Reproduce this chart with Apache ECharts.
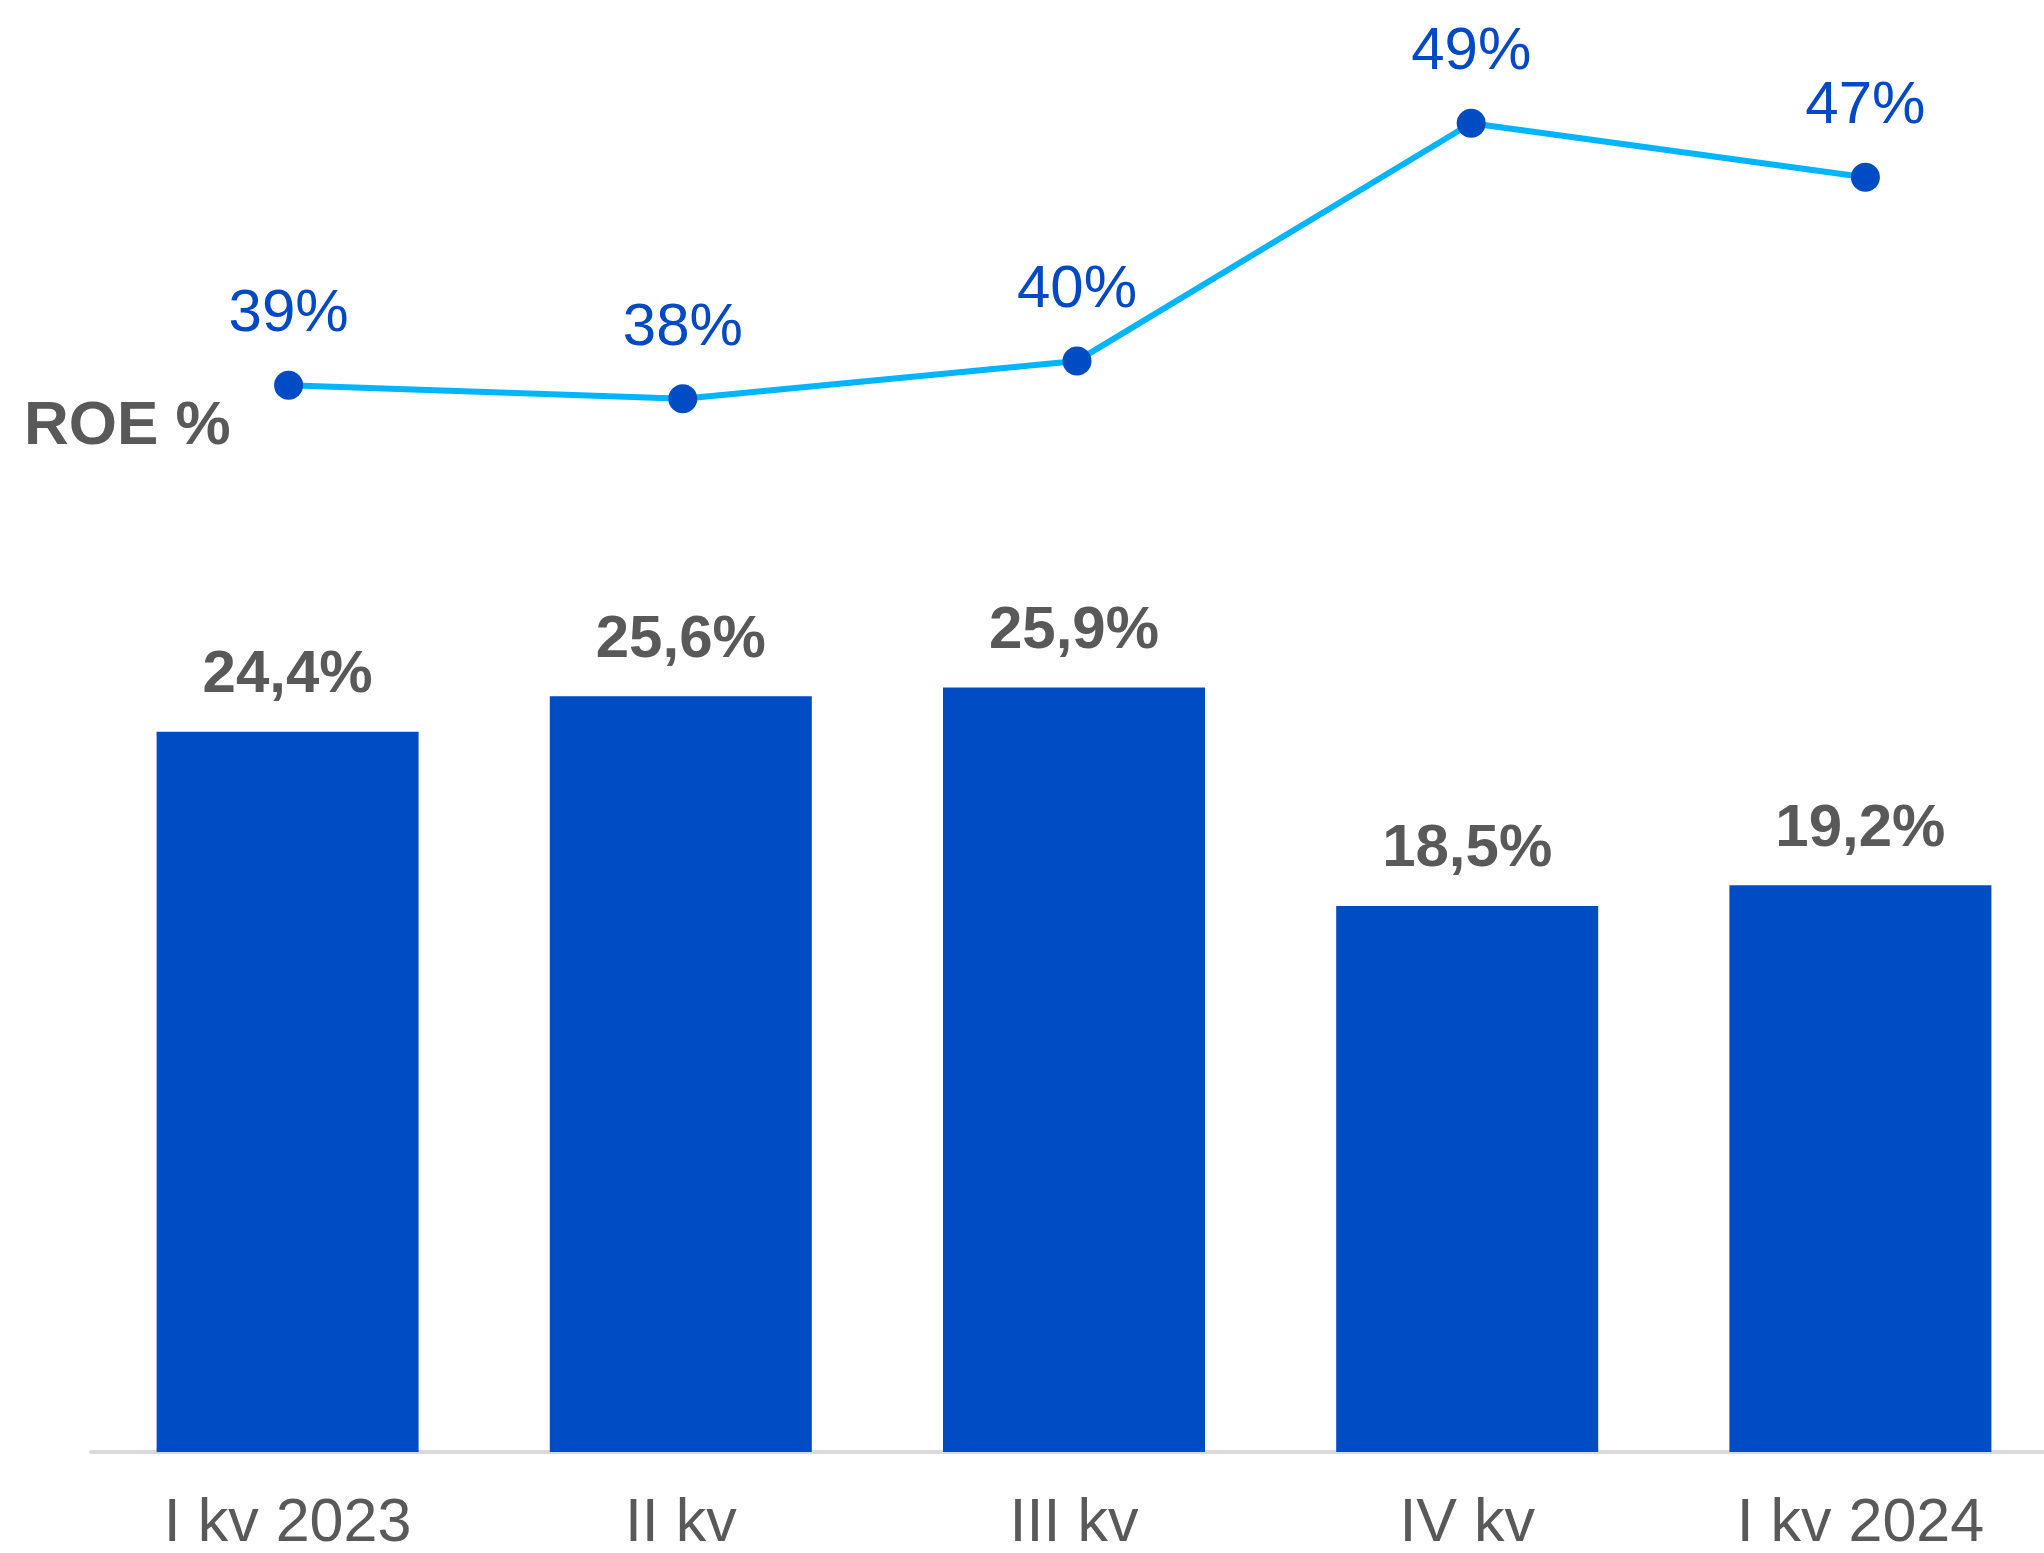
<!DOCTYPE html>
<html>
<head>
<meta charset="utf-8">
<title>ROE</title>
<script src="https://cdn.jsdelivr.net/npm/echarts@6/dist/echarts.min.js"></script>
<style>
  html, body { margin: 0; padding: 0; background: #fff; }
  #chart { width: 2044px; height: 1553px; }
</style>
</head>
<body>
<div id="chart"></div>
<script>
// data
const categories = ["I kv 2023", "II kv", "III kv", "IV kv", "I kv 2024"];
const barValues = [24.4, 25.6, 25.9, 18.5, 19.2];
const roeValues = [38.9, 38.4, 39.8, 48.6, 46.6];

const grey = "#595959";
const font = "'Liberation Sans', Arial, sans-serif";

const chart = echarts.init(document.getElementById("chart"));

chart.setOption({
  animation: false,
  grid: [
    { left: 91, width: 1966, top: 566.4, height: 885.6, outerBoundsMode: "none" },
    { left: 91.5, width: 1971, top: 85.5, height: 540, outerBoundsMode: "none" }
  ],
  xAxis: [
    {
      type: "category",
      gridIndex: 0,
      data: categories,
      offset: 2,
      axisTick: { show: false },
      axisLine: { lineStyle: { color: "#d9d9d9", width: 4 } },
      axisLabel: {
        color: grey,
        fontFamily: font,
        fontSize: 61,
        margin: 40,
        interval: 0
      }
    },
    {
      type: "category",
      gridIndex: 1,
      data: categories,
      show: false
    }
  ],
  yAxis: [
    { type: "value", gridIndex: 0, min: 0, max: 30, show: false },
    { type: "value", gridIndex: 1, min: 30, max: 50, show: false }
  ],
  graphic: [
    {
      type: "text",
      x: 24,
      y: 427,
      style: {
        text: "ROE %",
        fill: grey,
        font: "bold 62px " + font,
        textAlign: "left",
        textVerticalAlign: "middle"
      }
    }
  ],
  series: [
    {
      type: "bar",
      xAxisIndex: 0,
      yAxisIndex: 0,
      data: barValues,
      barWidth: 262,
      itemStyle: { color: "#004cc5" },
      label: {
        show: true,
        position: "top",
        distance: 26,
        color: grey,
        fontFamily: font,
        fontWeight: "bold",
        fontSize: 60,
        formatter: (p) => p.value.toFixed(1).replace(".", ",") + "%"
      }
    },
    {
      type: "line",
      xAxisIndex: 1,
      yAxisIndex: 1,
      data: roeValues,
      symbol: "circle",
      symbolSize: 29,
      lineStyle: { color: "#00b5ff", width: 6 },
      itemStyle: { color: "#004cc5" },
      label: {
        show: true,
        position: "top",
        distance: 26,
        color: "#0049c4",
        fontFamily: font,
        fontSize: 60,
        formatter: (p) => Math.round(p.value) + "%"
      }
    }
  ]
});
</script>
</body>
</html>
